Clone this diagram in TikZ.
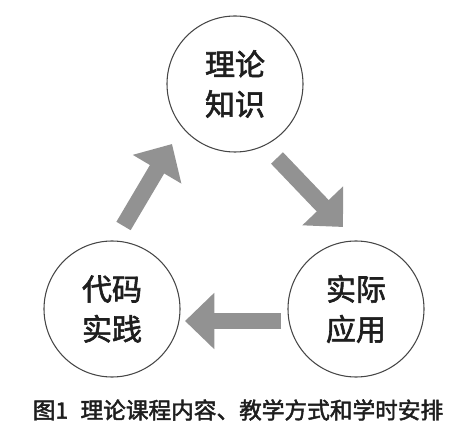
\documentclass[tikz,border=0pt]{standalone}
\usepackage{fontspec}
\setmainfont[FakeBold=2]{Noto Sans CJK SC}
\usetikzlibrary{arrows.meta}
\definecolor{arrowgray}{RGB}{146,146,146}
\definecolor{ringgray}{RGB}{70,70,70}
\definecolor{inkgray}{RGB}{30,30,30}
\begin{document}
\begin{tikzpicture}[x=0.75pt, y=0.75pt, line width=0.8pt,
  stage/.style={circle, draw=ringgray, minimum size=102pt, inner sep=0pt,
    align=center, text=inkgray, font=\fontsize{22.5}{30}\selectfont},
  flow/.style={arrowgray, line width=12.4pt,
    -{Triangle[width=41pt, length=22pt]}}]
  % Page frame (figure scale: 1 unit = 1 px of the 457x439 reference)
  \useasboundingbox (0,0) rectangle (457,439);
  % The three stages of the cycle
  \node[stage] (theory) at (235,355) {理论\\知识};
  \node[stage] (apply) at (356,130) {实际\\应用};
  \node[stage] (code) at (112,130) {代码\\实践};
  % Ends of the broad gray arrows
  \coordinate (upstart) at (123.5,213);
  \coordinate (upend) at (172,295);
  \coordinate (downstart) at (277,281);
  \coordinate (downend) at (343,212);
  \coordinate (leftstart) at (281,118);
  \coordinate (leftend) at (185,118);
  \draw[flow] (upstart) -- (upend);
  \draw[flow] (downstart) -- (downend);
  \draw[flow] (leftstart) -- (leftend);
  % Caption
  \node[text=inkgray, font=\fontsize{17}{20}\selectfont] (caption)
    at (238,29) {图1\hspace{0.55em}理论课程内容、教学方式和学时安排};
\end{tikzpicture}
\end{document}
